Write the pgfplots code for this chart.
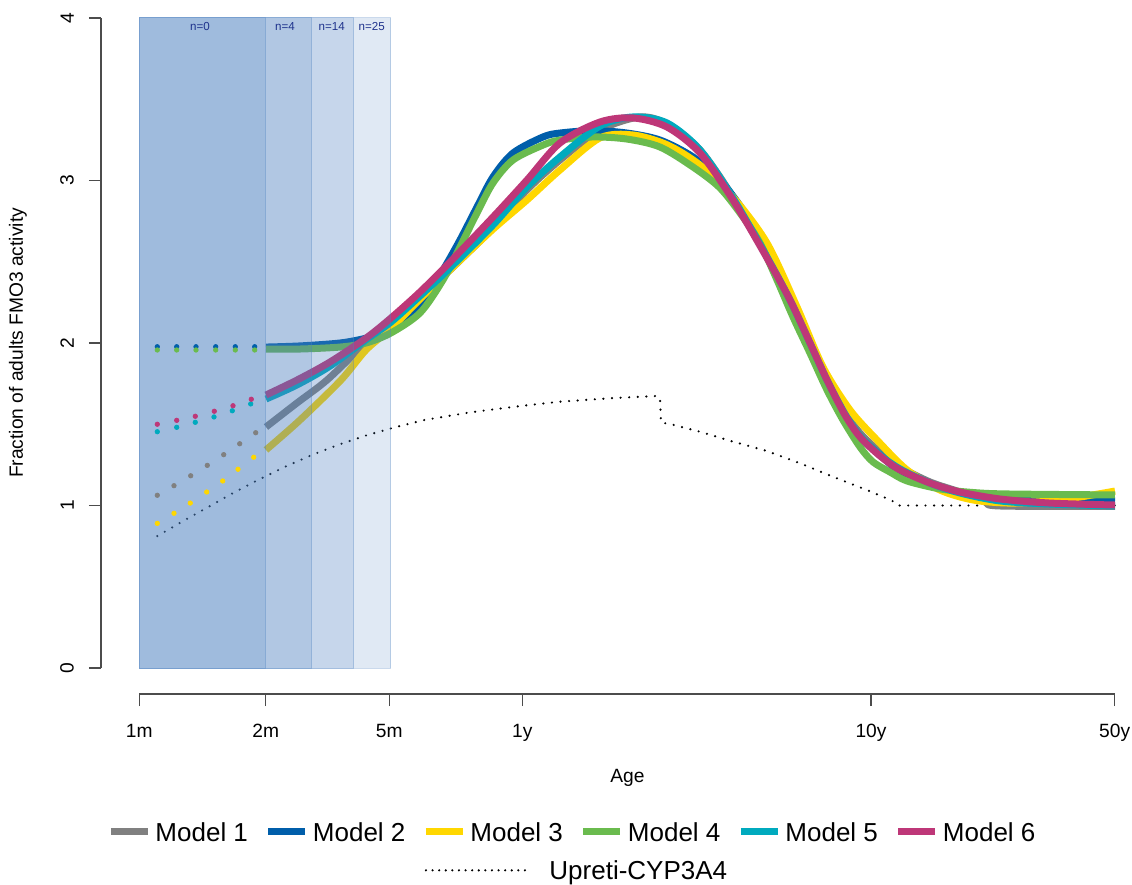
\documentclass[border=0pt]{standalone}
\usepackage{fontspec}
\setmainfont{Liberation Sans}
\usepackage{pgfplots}
\pgfplotsset{compat=1.18}
\definecolor{m1}{RGB}{128,128,128}
\definecolor{m2}{RGB}{0,94,170}
\definecolor{m3}{RGB}{255,215,0}
\definecolor{m4}{RGB}{106,187,78}
\definecolor{m5}{RGB}{0,170,190}
\definecolor{m6}{RGB}{190,55,120}
\definecolor{shade}{RGB}{78,129,192}
\definecolor{nlab}{RGB}{30,50,140}
\pgfplotsset{upreti legend/.style={legend image code/.code={\draw[##1, overlay, dash pattern=on 0pt off 3.3pt] (0pt,0pt) -- (49.5pt,0pt); \path[draw=none] (0pt,0pt) -- (18.5pt,0pt);}}}
\begin{document}
\begin{tikzpicture}
\useasboundingbox (-50.5pt,-95.5pt) rectangle (515.5pt,347pt);
\begin{axis}[
  at={(0pt,0pt)}, anchor=south west,
  scale only axis, width=526.5pt, height=347pt,
  xmin=101, xmax=1154, ymin=-0.16, ymax=4.1108,
  clip=false,
  axis x line*=bottom, axis y line*=left,
  axis line style={draw=none},
  tick align=outside, major tick length=6pt,
  tick style={black!70, line width=0.75pt},
  xtick={139.3,265.7,389.3,522.3,871,1114.7},
  xticklabels={1m,2m,5m,1y,10y,50y},
  ytick={0,1,2,3,4},
  ticklabel style={font=\fontsize{9.6}{11}\selectfont},
  /pgf/number format/assume math mode=true,
  xticklabel style={yshift=-5.5pt},
  yticklabel style={xshift=-4pt, rotate=90, anchor=south},
  xlabel={Age}, ylabel={Fraction of adults FMO3 activity},
  label style={font=\fontsize{9.6}{11}\selectfont},
  xlabel style={at={(axis description cs:0.5,-0.1210)}, anchor=center},
  ylabel style={at={(axis description cs:-0.0788,0.5058)}, anchor=center},
  legend cell align=left,
  legend columns=6,
  legend image code/.code={\draw[#1] (0pt,0pt) -- (18.5pt,0pt);},
  legend style={at={(axis description cs:0.4468,-0.1787)}, anchor=north,
    draw=none, fill=none, font=\fontsize{13}{14}\selectfont,
    /tikz/every odd column/.append style={column sep=2pt},
    /tikz/every even column/.append style={column sep=8.5pt},
    row sep=10pt,
    nodes={inner sep=0pt, text height=9.3pt, text depth=0pt}},
]
% axis lines
\draw[black!70, line width=0.75pt] (axis cs:139.3,-0.16) -- (axis cs:1114.7,-0.16);
\draw[black!70, line width=0.75pt] (axis cs:101,0) -- (axis cs:101,4);

% Upreti-CYP3A4
\addplot[forget plot, black, line width=1.2pt, line cap=round, dash pattern=on 0pt off 4.3pt] coordinates {
(157.3,0.812) (182.7,0.903) (208.3,0.991) (233.7,1.079) (259.3,1.161) (286,1.241) (312.7,1.313) (340,1.377) (367.7,1.434) (396,1.483) (424.3,1.526) (470,1.573) (520,1.612) (560,1.639) (610,1.660) (657,1.674) (660,1.66) (661,1.511) (671,1.500) (700,1.454) (733,1.393) (767,1.335) (800,1.260) (833,1.177) (867,1.095) (892,1.030) (898,1.0) (1115,1.0)};

% Model 1
\addplot[forget plot, only marks, mark=*, mark size=1.1pt, m1] coordinates {
(157.3,1.063) (174,1.122) (190.7,1.183) (207.3,1.247) (223.7,1.313) (239.7,1.380) (255.7,1.448)};
\addplot[forget plot, m1, line width=3.5pt, smooth] coordinates {
(266,1.483) (297,1.631) (327,1.772) (366,2.000) (391,2.123) (420,2.277) (450,2.449) (493,2.708) (527,2.942) (560,3.126) (600,3.311) (640,3.391) (667,3.348) (700,3.188) (733,2.898) (767,2.535) (790,2.277) (810,2.012) (827,1.785) (845,1.575) (860,1.446) (880,1.329) (900,1.237) (930,1.145) (960,1.083) (985,1.022) (1000,0.997) (1115,0.994)};

% Model 2
\addplot[forget plot, only marks, mark=*, mark size=1.1pt, m2] coordinates {
(157.3,1.977) (176.7,1.977) (196,1.977) (215.7,1.977) (235.3,1.977) (254.7,1.977)};
\addplot[forget plot, m2, line width=3.5pt, smooth] coordinates {
(266,1.975) (300,1.982) (340,2.000) (366,2.030) (390,2.080) (420,2.222) (443,2.449) (460,2.634) (477,2.837) (493,3.022) (513,3.169) (543,3.268) (560,3.292) (593,3.307) (627,3.292) (660,3.249) (693,3.145) (720,3.003) (743,2.818) (760,2.634) (777,2.406) (793,2.185) (810,1.957) (827,1.754) (843,1.569) (860,1.422) (880,1.311) (907,1.175) (940,1.114) (973,1.065) (1040,1.040) (1115,1.028)};

% Model 3
\addplot[forget plot, only marks, mark=*, mark size=1.1pt, m3] coordinates {
(157.3,0.890) (174,0.952) (190.3,1.015) (206.7,1.083) (222.7,1.151) (238,1.223) (253.7,1.297)};
\addplot[forget plot, m3, line width=3.5pt, smooth] coordinates {
(266,1.342) (300,1.526) (341,1.772) (366,1.957) (391,2.090) (420,2.270) (450,2.450) (493,2.700) (527,2.880) (560,3.065) (600,3.262) (633,3.280) (667,3.220) (700,3.095) (733,2.898) (767,2.615) (797,2.222) (823,1.852) (850,1.588) (877,1.403) (907,1.219) (940,1.095) (973,1.034) (1010,1.015) (1050,1.028) (1080,1.052) (1115,1.089)};

% Model 4
\addplot[forget plot, only marks, mark=*, mark size=1.1pt, m4] coordinates {
(157.3,1.957) (176.7,1.957) (196,1.957) (215.7,1.957) (235.3,1.957) (254.7,1.957)};
\addplot[forget plot, m4, line width=3.5pt, smooth] coordinates {
(266,1.963) (300,1.963) (340,1.975) (366,2.000) (391,2.062) (420,2.185) (443,2.388) (460,2.591) (477,2.800) (493,2.985) (513,3.126) (543,3.218) (560,3.249) (593,3.268) (627,3.255) (660,3.206) (693,3.083) (720,2.954) (743,2.775) (760,2.615) (777,2.388) (793,2.160) (810,1.938) (827,1.711) (843,1.526) (860,1.360) (873,1.268) (890,1.206) (907,1.151) (940,1.102) (973,1.080) (1007,1.071) (1115,1.065)};

% Model 5
\addplot[forget plot, only marks, mark=*, mark size=1.1pt, m5] coordinates {
(157.3,1.454) (176.7,1.481) (195.3,1.512) (214,1.545) (232.3,1.583) (250.7,1.625)};
\addplot[forget plot, m5, line width=3.5pt, smooth] coordinates {
(266,1.655) (297,1.742) (330,1.858) (366,2.020) (391,2.129) (420,2.289) (450,2.462) (493,2.726) (527,2.960) (560,3.145) (600,3.335) (633,3.391) (667,3.354) (700,3.188) (733,2.892) (767,2.529) (790,2.265) (810,2.000) (827,1.772) (845,1.563) (860,1.428) (880,1.311) (900,1.225) (930,1.138) (960,1.077) (1000,1.028) (1050,1.009) (1115,0.997)};

% Model 6
\addplot[forget plot, only marks, mark=*, mark size=1.1pt, m6] coordinates {
(157.3,1.500) (176.7,1.524) (195.3,1.549) (214.3,1.580) (233,1.614) (251.3,1.654)};
\addplot[forget plot, m6, line width=3.5pt, smooth] coordinates {
(266,1.680) (297,1.772) (330,1.883) (366,2.030) (391,2.154) (420,2.314) (450,2.498) (493,2.775) (527,3.003) (560,3.231) (600,3.360) (633,3.385) (667,3.329) (700,3.169) (733,2.880) (767,2.523) (790,2.265) (810,2.000) (827,1.772) (845,1.557) (860,1.422) (880,1.305) (900,1.219) (930,1.138) (960,1.083) (1000,1.040) (1050,1.015) (1115,1.003)};

% shaded regions (drawn over the curves)
\addplot[forget plot, fill=shade, fill opacity=0.175, draw=shade, draw opacity=0.3, line width=0.5pt] coordinates {(140,0) (391,0) (391,4) (140,4)} --cycle;
\addplot[forget plot, fill=shade, fill opacity=0.175, draw=shade, draw opacity=0.3, line width=0.5pt] coordinates {(140,0) (354,0) (354,4) (140,4)} --cycle;
\addplot[forget plot, fill=shade, fill opacity=0.175, draw=shade, draw opacity=0.3, line width=0.5pt] coordinates {(140,0) (312,0) (312,4) (140,4)} --cycle;
\addplot[forget plot, fill=shade, fill opacity=0.175, draw=shade, draw opacity=0.3, line width=0.5pt] coordinates {(140,0) (266,0) (266,4) (140,4)} --cycle;

\node[font=\fontsize{5.8}{7}\selectfont, text=nlab] at (axis cs:200,3.945) {n=0};
\node[font=\fontsize{5.8}{7}\selectfont, text=nlab] at (axis cs:285,3.945) {n=4};
\node[font=\fontsize{5.8}{7}\selectfont, text=nlab] at (axis cs:331.7,3.945) {n=14};
\node[font=\fontsize{5.8}{7}\selectfont, text=nlab] at (axis cs:371.7,3.945) {n=25};

% legend
\addlegendimage{m1, line width=3.5pt}\addlegendentry{Model 1}
\addlegendimage{m2, line width=3.5pt}\addlegendentry{Model 2}
\addlegendimage{m3, line width=3.5pt}\addlegendentry{Model 3}
\addlegendimage{m4, line width=3.5pt}\addlegendentry{Model 4}
\addlegendimage{m5, line width=3.5pt}\addlegendentry{Model 5}
\addlegendimage{m6, line width=3.5pt}\addlegendentry{Model 6}
\addlegendimage{empty legend}\addlegendentry{}
\addlegendimage{empty legend}\addlegendentry{}
\addlegendimage{black, line width=1.2pt, line cap=round, upreti legend}\addlegendentry{\makebox[0pt][l]{\hspace{39pt}Upreti-CYP3A4}}
\end{axis}
\end{tikzpicture}
\end{document}
